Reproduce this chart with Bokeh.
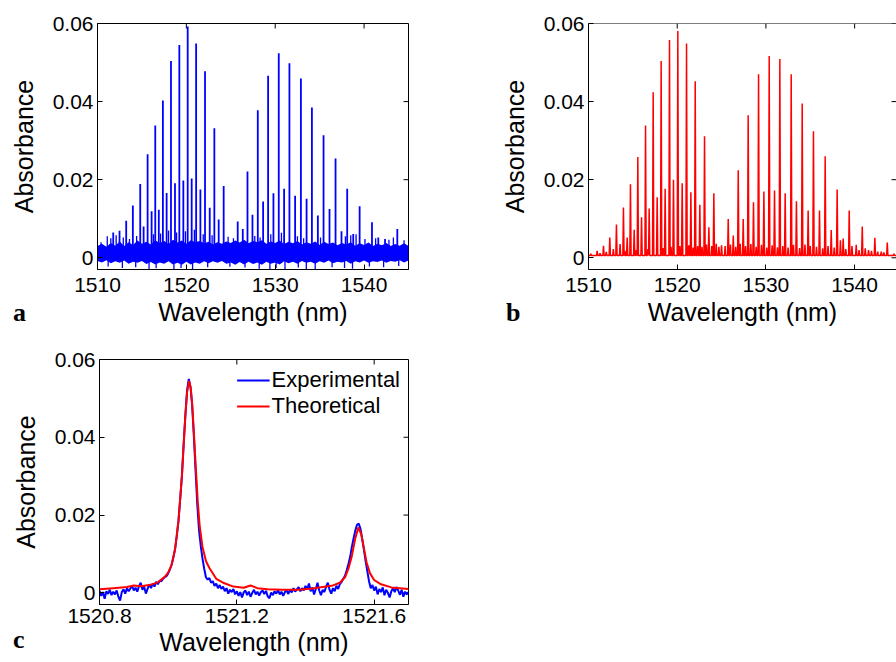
import numpy as np
from bokeh.plotting import figure
from bokeh.models import (FixedTicker, Range1d, NumeralTickFormatter, Div)
from bokeh.layouts import column, row
from bokeh.embed import file_html
from bokeh.resources import INLINE

# ---------------- data ----------------
# Panel a: experimental spectrum, main absorption lines (nm, absorbance)
a_wl = [1511.77, 1512.48, 1513.23, 1513.98, 1514.81, 1515.19, 1515.64, 1516.09, 1516.50, 1516.90,
        1517.36, 1517.78, 1518.27, 1518.72, 1519.21, 1519.66, 1520.15, 1520.60, 1521.10, 1521.58,
        1522.10, 1522.63, 1523.15, 1523.64, 1524.20, 1525.78, 1526.35, 1526.88, 1527.44, 1528.04,
        1528.64, 1529.20, 1529.80, 1530.40, 1531.00, 1531.60, 1532.24, 1532.89, 1533.53, 1534.13,
        1534.80, 1535.44, 1536.11, 1536.79, 1537.46, 1538.10, 1538.78, 1539.50, 1540.89, 1541.60,
        1542.36, 1543.74]
a_abs = [0.0065, 0.0069, 0.0095, 0.0134, 0.0189, 0.0080, 0.0265, 0.0119, 0.0339, 0.0123,
         0.0403, 0.0166, 0.0504, 0.0191, 0.0545, 0.0198, 0.0592, 0.0203, 0.0549, 0.0175,
         0.0478, 0.0128, 0.0332, 0.0098, 0.0184, 0.0093, 0.0074, 0.0221, 0.0110, 0.0378,
         0.0144, 0.0466, 0.0165, 0.0524, 0.0177, 0.0498, 0.0159, 0.0459, 0.0151, 0.0385,
         0.0108, 0.0314, 0.0125, 0.0254, 0.0068, 0.0177, 0.0061, 0.0132, 0.0091, 0.0052,
         0.0048, 0.0074]
# weak lines just above the noise in panel a
a_weak_wl = [1510.4, 1511.1, 1511.5, 1512.1, 1512.9, 1513.6, 1514.4, 1516.3, 1517.1, 1518.0,
             1518.9, 1519.9, 1520.9, 1521.9, 1522.9, 1524.7, 1525.3, 1527.7, 1528.3, 1529.5,
             1530.7, 1532.5, 1533.2, 1535.1, 1537.9, 1538.5, 1539.1, 1540.1, 1541.3, 1542.8,
             1543.3, 1544.5]
a_weak_abs = [0.0040, 0.0055, 0.0050, 0.0058, 0.0052, 0.0048, 0.0056, 0.0060, 0.0062, 0.0070,
              0.0065, 0.0068, 0.0072, 0.0060, 0.0058, 0.0054, 0.0050, 0.0056, 0.0052, 0.0060,
              0.0064, 0.0055, 0.0050, 0.0052, 0.0055, 0.0058, 0.0060, 0.0048, 0.0050, 0.0046,
              0.0052, 0.0045]
# downward noise spikes in panel a
a_dip_wl = [1511.2, 1512.8, 1514.3, 1515.8, 1516.6, 1518.6, 1519.4, 1520.7, 1522.4, 1524.9,
            1526.6, 1528.2, 1529.4, 1530.1, 1531.1, 1532.6, 1533.5, 1534.5, 1536.4, 1537.8,
            1538.7, 1540.6, 1542.2, 1543.9]
a_dip_abs = [-0.0022, -0.0026, -0.0024, -0.0029, -0.0027, -0.0029, -0.0026, -0.0030, -0.0024, -0.0023,
             -0.0025, -0.0028, -0.0030, -0.0026, -0.0029, -0.0025, -0.0029, -0.0030, -0.0024, -0.0026,
             -0.0028, -0.0022, -0.0024, -0.0021]
# noise band envelope of panel a, sampled every 0.5 nm from 1510 nm
noise_start = 1510.0
noise_step = 0.5
noise_hi = [0.0030, 0.0036, 0.0028, 0.0038, 0.0031, 0.0042, 0.0030, 0.0040, 0.0033, 0.0044,
            0.0036, 0.0041, 0.0034, 0.0045, 0.0038, 0.0043, 0.0035, 0.0046, 0.0039, 0.0044,
            0.0036, 0.0045, 0.0040, 0.0043, 0.0037, 0.0041, 0.0034, 0.0040, 0.0036, 0.0042,
            0.0038, 0.0044, 0.0039, 0.0046, 0.0037, 0.0043, 0.0040, 0.0045, 0.0036, 0.0042,
            0.0038, 0.0044, 0.0035, 0.0041, 0.0037, 0.0043, 0.0034, 0.0040, 0.0036, 0.0042,
            0.0033, 0.0041, 0.0035, 0.0039, 0.0032, 0.0038, 0.0034, 0.0040, 0.0031, 0.0037,
            0.0033, 0.0039, 0.0030, 0.0036, 0.0032, 0.0038, 0.0030, 0.0035, 0.0031, 0.0037,
            0.0030]
noise_lo = [-0.0008, -0.0012, -0.0006, -0.0014, -0.0009, -0.0013, -0.0007, -0.0015, -0.0010, -0.0013,
            -0.0008, -0.0016, -0.0011, -0.0017, -0.0012, -0.0015, -0.0009, -0.0017, -0.0013, -0.0018,
            -0.0010, -0.0017, -0.0012, -0.0015, -0.0009, -0.0014, -0.0009, -0.0013, -0.0008, -0.0015,
            -0.0012, -0.0018, -0.0011, -0.0017, -0.0010, -0.0016, -0.0012, -0.0018, -0.0010, -0.0015,
            -0.0012, -0.0017, -0.0009, -0.0014, -0.0010, -0.0015, -0.0008, -0.0013, -0.0010, -0.0015,
            -0.0009, -0.0013, -0.0007, -0.0014, -0.0010, -0.0012, -0.0008, -0.0015, -0.0009, -0.0012,
            -0.0007, -0.0013, -0.0009, -0.0011, -0.0007, -0.0013, -0.0008, -0.0010, -0.0006, -0.0012,
            -0.0007]

# Panel b: theoretical spectrum, lines (nm, absorbance)
b_wl = [1510.26, 1510.98, 1511.69, 1512.40, 1512.80, 1513.15, 1513.56, 1513.94, 1514.36, 1514.73,
        1515.15, 1515.56, 1515.98, 1516.43, 1516.84, 1517.29, 1517.74, 1518.19, 1518.64, 1519.13,
        1519.58, 1520.07, 1520.56, 1521.05, 1521.54, 1522.03, 1522.55, 1523.08, 1523.57, 1524.13,
        1525.75, 1526.32, 1526.88, 1527.44, 1528.00, 1528.60, 1529.17, 1529.77, 1530.37, 1530.97,
        1531.57, 1532.17, 1532.85, 1533.44, 1534.09, 1534.76, 1535.36, 1536.04, 1536.68, 1537.36,
        1538.03, 1538.71, 1539.39, 1540.18, 1540.86, 1541.57, 1542.28, 1543.00, 1543.68, 1544.42]
b_abs = [0.0010, 0.0018, 0.0031, 0.0052, 0.0022, 0.0085, 0.0035, 0.0129, 0.0052, 0.0188,
         0.0072, 0.0258, 0.0104, 0.0339, 0.0126, 0.0424, 0.0155, 0.0504, 0.0177, 0.0558,
         0.0200, 0.0581, 0.0191, 0.0549, 0.0168, 0.0452, 0.0136, 0.0311, 0.0078, 0.0165,
         0.0099, 0.0057, 0.0224, 0.0099, 0.0365, 0.0142, 0.0470, 0.0170, 0.0517, 0.0172,
         0.0509, 0.0165, 0.0470, 0.0145, 0.0395, 0.0121, 0.0324, 0.0121, 0.0260, 0.0071,
         0.0175, 0.0049, 0.0121, 0.0033, 0.0080, 0.0020, 0.0051, 0.0016, 0.0039, 0.0010]
b_weak_wl = [1511.3, 1512.0, 1514.1, 1515.4, 1516.7, 1518.4, 1519.3, 1520.3, 1521.3, 1521.8,
             1522.3, 1522.8, 1523.3, 1523.9, 1524.4, 1524.7, 1525.0, 1525.4, 1526.0, 1526.6,
             1527.1, 1527.7, 1528.3, 1528.9, 1529.5, 1530.1, 1530.7, 1531.3, 1531.9, 1532.5,
             1533.1, 1533.8, 1534.4, 1535.0, 1535.7, 1536.4, 1537.0, 1537.7, 1538.4, 1539.0,
             1539.7, 1540.5, 1541.2, 1541.9, 1542.6, 1543.3]
b_weak_abs = [0.0012, 0.0015, 0.0018, 0.0020, 0.0022, 0.0025, 0.0028, 0.0030, 0.0032, 0.0026,
              0.0030, 0.0028, 0.0034, 0.0030, 0.0036, 0.0028, 0.0032, 0.0030, 0.0034, 0.0028,
              0.0036, 0.0030, 0.0035, 0.0028, 0.0033, 0.0026, 0.0032, 0.0027, 0.0030, 0.0026,
              0.0033, 0.0025, 0.0034, 0.0030, 0.0028, 0.0024, 0.0030, 0.0026, 0.0045, 0.0022,
              0.0030, 0.0020, 0.0024, 0.0018, 0.0016, 0.0014]
b_baseline = 0.0006

# Panel c: zoom on two lines, theoretical profile
theo_wl = [1520.80, 1520.84, 1520.88, 1520.90, 1520.92, 1520.95, 1520.97, 1520.99, 1521.00, 1521.01,
           1521.02, 1521.03, 1521.04, 1521.045, 1521.05, 1521.055, 1521.061, 1521.066, 1521.07, 1521.075,
           1521.08, 1521.086, 1521.092, 1521.10, 1521.11, 1521.12, 1521.14, 1521.16, 1521.19, 1521.22,
           1521.24, 1521.26, 1521.29, 1521.33, 1521.38, 1521.42, 1521.45, 1521.48, 1521.50, 1521.515,
           1521.525, 1521.535, 1521.545, 1521.554, 1521.562, 1521.57, 1521.578, 1521.588, 1521.60, 1521.62,
           1521.65, 1521.70]
theo_abs = [0.0009, 0.0012, 0.0015, 0.0019, 0.0017, 0.0021, 0.0027, 0.0041, 0.0052, 0.0072,
            0.0112, 0.0185, 0.0300, 0.0380, 0.0455, 0.0515, 0.0545, 0.0525, 0.0485, 0.0410,
            0.0330, 0.0237, 0.0170, 0.0118, 0.0082, 0.0064, 0.0036, 0.0026, 0.0016, 0.0013,
            0.0019, 0.0012, 0.0009, 0.0008, 0.0008, 0.0011, 0.0015, 0.0019, 0.0026, 0.0040,
            0.0062, 0.0095, 0.0140, 0.0168, 0.0152, 0.0115, 0.0078, 0.0050, 0.0033, 0.0022,
            0.0014, 0.0010]
# experimental samples every 0.005 nm from 1520.8 nm
exp_start = 1520.8
exp_step = 0.005
exp_abs = [0.0005, -0.0008, 0.0002, -0.0015, 0.0004, -0.0003, 0.0008, -0.0006, 0.0003, -0.0004,
           0.0006, -0.0010, -0.0020, 0.0002, 0.0009, -0.0002, 0.0012, 0.0004, 0.0011, 0.0018,
           0.0006, 0.0013, 0.0003, 0.0017, 0.0026, 0.0008, 0.0016, -0.0002, 0.0010, 0.0022,
           0.0012, 0.0024, 0.0016, 0.0028, 0.0022, 0.0031, 0.0030, 0.0036, 0.0040, 0.0043,
           0.0050, 0.0060, 0.0072, 0.0090, 0.0112, 0.0145, 0.0185, 0.0240, 0.0300, 0.0380,
           0.0455, 0.0520, 0.0550, 0.0530, 0.0480, 0.0400, 0.0310, 0.0225, 0.0160, 0.0120,
           0.0088, 0.0062, 0.0040, 0.0034, 0.0038, 0.0026, 0.0030, 0.0018, 0.0024, 0.0012,
           0.0020, 0.0010, 0.0016, 0.0004, 0.0012, -0.0002, 0.0008, 0.0002, 0.0010, -0.0004,
           0.0004, -0.0008, 0.0002, -0.0012, 0.0001, 0.0006, -0.0006, 0.0003, -0.0010, 0.0000,
           0.0008, -0.0004, 0.0003, -0.0007, 0.0002, 0.0006, -0.0003, 0.0005, -0.0009, -0.0014,
           0.0001, -0.0006, 0.0004, -0.0002, 0.0007, -0.0004, 0.0003, -0.0008, 0.0002, 0.0006,
           -0.0003, 0.0008, 0.0001, 0.0012, 0.0003, 0.0009, 0.0015, 0.0004, 0.0012, 0.0006,
           0.0018, 0.0009, 0.0024, 0.0004, 0.0014, -0.0004, 0.0010, 0.0026, 0.0006, -0.0006,
           0.0008, 0.0002, 0.0016, 0.0026, 0.0008, -0.0002, 0.0012, 0.0004, 0.0018, 0.0010,
           0.0022, 0.0028, 0.0036, 0.0044, 0.0058, 0.0074, 0.0092, 0.0118, 0.0140, 0.0160,
           0.0175, 0.0178, 0.0165, 0.0140, 0.0112, 0.0082, 0.0056, 0.0030, 0.0012, 0.0020,
           0.0006, 0.0016, -0.0004, 0.0010, 0.0002, 0.0014, -0.0006, 0.0008, 0.0000, -0.0012,
           0.0004, 0.0012, 0.0002, 0.0015, 0.0006, -0.0005, 0.0008, -0.0010, 0.0003, -0.0004,
           0.0002]

y_ticks = [0, 0.02, 0.04, 0.06]
x_ticks_ab = [1510, 1520, 1530, 1540]
x_ticks_c = [1520.8, 1521.2, 1521.6]
panel_letters = ["a", "b", "c"]

SANS = "Liberation Sans"
SERIF = "Liberation Serif"
BLUE = "#0000FF"
RED = "#FF0000"
Y_RANGE = (-0.003, 0.06)


def make_fig(width, height, bl, br, bt, bb, xr, xticks, open_right=False,
             tick_standoff=8, label_standoff=3):
    p = figure(width=width, height=height, x_range=Range1d(*xr), y_range=Range1d(*Y_RANGE),
               output_backend="svg", toolbar_location=None,
               min_border_left=bl, min_border_right=br, min_border_top=bt,
               min_border_bottom=bb, x_axis_label="Wavelength (nm)",
               y_axis_label="Absorbance")
    p.grid.visible = False
    p.background_fill_color = "white"
    p.border_fill_color = "white"
    p.outline_line_color = None if open_right else "black"
    bottom = p.below[0]
    left = p.left[0]
    bottom.ticker = FixedTicker(ticks=xticks, minor_ticks=[])
    left.ticker = FixedTicker(ticks=y_ticks, minor_ticks=[])
    left.formatter = NumeralTickFormatter(format="0.[00]")
    for ax in (bottom, left):
        ax.major_tick_in = 5
        ax.major_tick_out = 0
        ax.minor_tick_in = 0
        ax.minor_tick_out = 0
        ax.major_tick_line_color = "black"
        ax.axis_line_color = "black"
        ax.major_label_text_font = SANS
        ax.axis_label_text_font = SANS
        ax.axis_label_text_font_style = "normal"
        ax.major_label_text_color = "black"
        ax.axis_label_text_color = "black"
        ax.major_label_text_font_size = "21px"
        ax.axis_label_text_font_size = "25px"
    bottom.major_label_standoff = tick_standoff
    bottom.axis_label_standoff = label_standoff
    left.major_label_standoff = 4
    left.axis_label_standoff = 12
    # inward ticks on the top and right sides (MATLAB box style)
    p.ray(x=xticks, y=[Y_RANGE[1]] * len(xticks), length=5, length_units="screen",
          angle=-90, angle_units="deg", line_color="black", line_width=1)
    p.ray(x=[xr[1]] * len(y_ticks), y=y_ticks, length=5, length_units="screen",
          angle=180, angle_units="deg", line_color="black", line_width=1)
    if open_right:
        p.line(x=[xr[0], xr[1]], y=[Y_RANGE[1], Y_RANGE[1]], line_color="black", line_width=1)
    return p


# ---------------- panel a ----------------
fa = make_fig(490, 340, 97, 82, 23, 71, (1510, 1545), x_ticks_ab)
nwl = [noise_start + noise_step * i for i in range(len(noise_hi))]
fa.varea(x=nwl, y1=noise_lo, y2=noise_hi, fill_color=BLUE)
fa.segment(x0=a_dip_wl, y0=[0.0] * len(a_dip_wl), x1=a_dip_wl, y1=a_dip_abs,
           line_color=BLUE, line_width=1.3)
fa.segment(x0=a_weak_wl, y0=[0.001] * len(a_weak_wl), x1=a_weak_wl, y1=a_weak_abs,
           line_color=BLUE, line_width=1.3)
fa.segment(x0=a_wl, y0=[0.001] * len(a_wl), x1=a_wl, y1=a_abs,
           line_color=BLUE, line_width=1.8)

# ---------------- panel b ----------------
fb = make_fig(406, 340, 98, 0, 23, 71, (1510, 1544.72), x_ticks_ab, open_right=True)
pk = sorted(zip(b_wl + b_weak_wl, b_abs + b_weak_abs))
half = 0.07
px, py = [1510.0], [b_baseline]
for w, a in pk:
    px += [w - half, w, w + half]
    py += [b_baseline, a, b_baseline]
px.append(1545.0)
py.append(b_baseline)
fb.line(px, py, line_color=RED, line_width=1.5)

# ---------------- panel c ----------------
fc = make_fig(420, 322, 99, 12, 19, 58, (1520.8, 1521.7), x_ticks_c,
              tick_standoff=4, label_standoff=2)
ewl = [exp_start + exp_step * i for i in range(len(exp_abs))]
fc.line(ewl, exp_abs, line_color=BLUE, line_width=2, legend_label="Experimental")
fc.line(theo_wl, theo_abs, line_color=RED, line_width=2, legend_label="Theoretical")
lg = fc.legend[0]
lg.location = "top_right"
lg.border_line_color = None
lg.background_fill_alpha = 0
lg.label_text_font = SANS
lg.label_text_font_size = "22px"
lg.label_text_color = "black"
lg.glyph_width = 33
lg.label_standoff = 2
lg.spacing = 0
lg.padding = 4
lg.margin = 8
lg.label_height = 25

# ---------------- panel letters (bold serif, outside the frames) ----------------
span_css = ("position:absolute;font-family:'Liberation Serif';font-weight:bold;"
            "font-size:26px;line-height:26px;color:black;")
letters_html = (
    f'<span style="{span_css}left:13px;top:300px;">{panel_letters[0]}</span>'
    f'<span style="{span_css}left:506px;top:300px;">{panel_letters[1]}</span>'
    f'<span style="{span_css}left:13px;top:627px;">{panel_letters[2]}</span>'
)
letters = Div(text=letters_html, width=1, height=0, margin=0,
              styles={"position": "relative", "overflow": "visible", "z-index": "10"})

layout = column(letters, row(fa, fb), fc)
open("out.html", "w").write(file_html(layout, INLINE))
